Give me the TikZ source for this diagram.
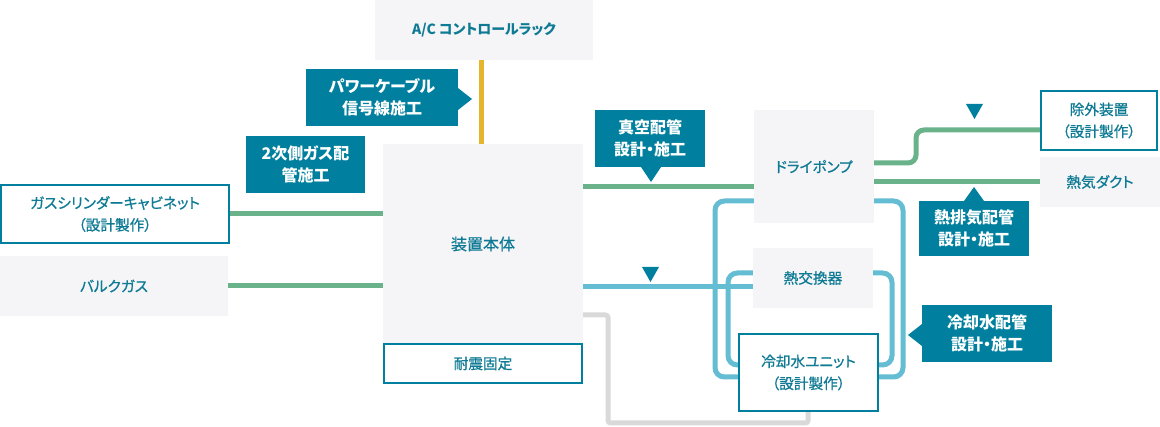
\documentclass[tikz,border=0pt]{standalone}
\usepackage{fontspec}
\setmainfont{Noto Sans CJK JP}[RawFeature=+palt]
\newfontfamily\medfont{Noto Sans CJK JP}[RawFeature=+palt, FakeBold=0.8]
\definecolor{tealc}{HTML}{00809E}
\definecolor{txtc}{HTML}{0E7A94}
\definecolor{greenl}{HTML}{6AB28A}
\definecolor{bluel}{HTML}{64BDD3}
\definecolor{yellowl}{HTML}{E5B52E}
\definecolor{grayl}{HTML}{D9D9D9}
\definecolor{boxg}{HTML}{F5F5F7}
\tikzset{
  px/.style={x=0.75pt,y=-0.75pt},
  graybox/.style={fill=boxg, inner sep=0pt, outer sep=0pt, align=center, text=txtc,
    font=\fontsize{11pt}{16.5pt}\medfont},
  linebox/.style={fill=white, draw=tealc, line width=1.9pt, inner sep=0pt, outer sep=0pt,
    align=center, text=txtc, font=\fontsize{11pt}{16.5pt}\medfont},
  callout/.style={fill=tealc, inner sep=0pt, outer sep=0pt, align=center, text=white,
    font=\fontsize{12pt}{16.5pt}\selectfont\bfseries},
  gline/.style={draw=greenl, line width=3.75pt},
  bline/.style={draw=bluel, line width=3.75pt, rounded corners=7pt},
  yline/.style={draw=yellowl, line width=3.75pt},
  grline/.style={draw=grayl, line width=3.75pt, rounded corners=2pt},
  marker/.style={fill=tealc},
  actext/.style={font=\fontsize{10.5pt}{16.5pt}\selectfont\bfseries},
  maintext/.style={font=\fontsize{12pt}{16.5pt}\medfont},
}
\begin{document}
\begin{tikzpicture}[px]
\useasboundingbox (0,0) rectangle (1160,427);

% ---------- lines ----------
\coordinate (ylo) at (481,60);
\coordinate (yhi) at (481,144);
\draw[yline] (ylo) -- (yhi);

% boxes (declared first so that connectors can use their names; drawn on top later)
\path
  (484,30) node[graybox, actext, minimum width=218*0.75pt, minimum height=60*0.75pt] (ac) {A/C コントロールラック}
  (115,214) node[linebox, minimum width=228*0.75pt, minimum height=58*0.75pt] (cyl) {ガスシリンダーキャビネット\\（設計製作）}
  (114,286) node[graybox, minimum width=228*0.75pt, minimum height=60*0.75pt] (bulk) {バルクガス}
  (483,244) node[graybox, maintext, minimum width=200*0.75pt, minimum height=200*0.75pt] (main) {装置本体}
  (483,363.5) node[linebox, minimum width=198*0.75pt, minimum height=39*0.75pt] (taishin) {耐震固定}
  (814,166.5) node[graybox, minimum width=120*0.75pt, minimum height=113*0.75pt] (pump) {ドライポンプ}
  (1099,120.5) node[linebox, minimum width=116*0.75pt, minimum height=59*0.75pt] (jogai) {除外装置\\（設計製作）}
  (1100,182) node[graybox, minimum width=120*0.75pt, minimum height=50*0.75pt] (duct) {熱気ダクト}
  (813,278) node[graybox, minimum width=120*0.75pt, minimum height=60*0.75pt] (hx) {熱交換器}
  (808.5,372.5) node[linebox, minimum width=139*0.75pt, minimum height=77*0.75pt] (cool) {冷却水ユニット\\（設計製作）};

% green gas lines
\draw[gline] (cyl.east) -- (cyl.east -| main.west);
\draw[gline] (bulk.east) -- (bulk.east -| main.west);
\draw[gline] (main.east |- 0,187) -- (pump.west |- 0,187);
\draw[gline, rounded corners=6pt] (pump.east |- 0,163) -- (916,163) -- (916,130) -- (jogai.west |- 0,130);
\draw[gline] (pump.east |- duct.west) -- (duct.west);

% blue cooling water lines
\draw[bline] (main.east |- 0,287) -- (hx.west |- 0,287);
\draw[bline] (pump.west |- 0,201) -- (715,201) -- (715,377) -- (cool.west |- 0,377);
\draw[bline] (pump.east |- 0,201) -- (903,201) -- (903,377) -- (cool.east |- 0,377);
\draw[bline] (hx.west |- 0,273) -- (728,273) -- (728,365) -- (cool.west |- 0,365);
\draw[bline] (hx.east |- 0,273) -- (892,273) -- (892,365) -- (cool.east |- 0,365);

% gray line
\draw[grline] (main.east |- 0,315) -- (608,315) -- (608,423) -- (808,423) -- (808,411);

% redraw boxes on top
\path
  (484,30) node[graybox, actext, minimum width=218*0.75pt, minimum height=60*0.75pt] {A/C コントロールラック}
  (115,214) node[linebox, minimum width=228*0.75pt, minimum height=58*0.75pt] {ガスシリンダーキャビネット\\（設計製作）}
  (114,286) node[graybox, minimum width=228*0.75pt, minimum height=60*0.75pt] {バルクガス}
  (483,244) node[graybox, maintext, minimum width=200*0.75pt, minimum height=200*0.75pt] {装置本体}
  (483,363.5) node[linebox, minimum width=198*0.75pt, minimum height=39*0.75pt] {耐震固定}
  (814,166.5) node[graybox, minimum width=120*0.75pt, minimum height=113*0.75pt] {ドライポンプ}
  (1099,120.5) node[linebox, minimum width=116*0.75pt, minimum height=59*0.75pt] {除外装置\\（設計製作）}
  (1100,182) node[graybox, minimum width=120*0.75pt, minimum height=50*0.75pt] {熱気ダクト}
  (813,278) node[graybox, minimum width=120*0.75pt, minimum height=60*0.75pt] {熱交換器}
  (808.5,372.5) node[linebox, minimum width=139*0.75pt, minimum height=77*0.75pt] {冷却水ユニット\\（設計製作）};

% ---------- callouts ----------
\node[callout, minimum width=152*0.75pt, minimum height=57*0.75pt] (power) at (382,97.5) {パワーケーブル\\信号線施工};
\fill[tealc] (power.east |- 0,88) -- (472,99) -- (power.east |- 0,110) -- cycle;

\node[callout, minimum width=119*0.75pt, minimum height=57*0.75pt] (gas2) at (305.5,164.5) {2次側ガス配\\管施工};

\node[callout, minimum width=110*0.75pt, minimum height=57*0.75pt] (vac) at (650,138.5) {真空配管\\設計・施工};
\fill[tealc] (641,167) -- (651,182) -- (661,167) -- cycle;

\node[callout, minimum width=110*0.75pt, minimum height=55*0.75pt] (exh) at (974,228.5) {熱排気配管\\設計・施工};
\fill[tealc] (964,201) -- (974,187) -- (984,201) -- cycle;

\node[callout, minimum width=130*0.75pt, minimum height=57*0.75pt] (coolc) at (987,333.5) {冷却水配管\\設計・施工};
\fill[tealc] (922,324) -- (908,335) -- (922,346) -- cycle;

% ---------- flow markers ----------
\fill[marker] (642,267) -- (659,267) -- (650.5,282) -- cycle;
\fill[marker] (966,104) -- (983,104) -- (974.5,119) -- cycle;
\end{tikzpicture}
\end{document}
